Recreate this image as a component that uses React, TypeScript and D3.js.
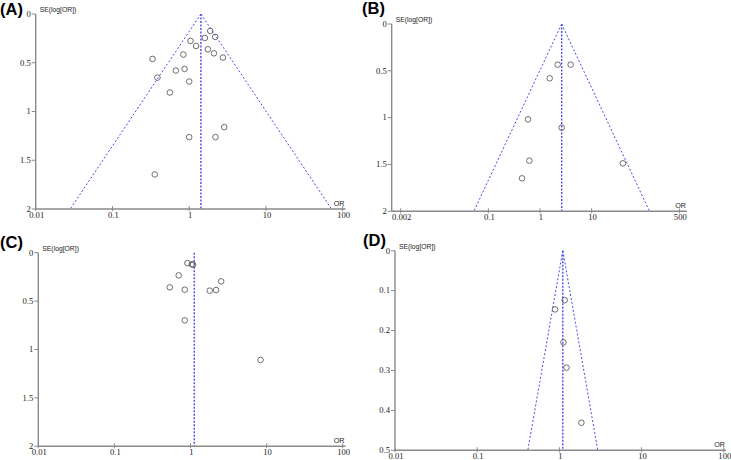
import React from "react";
import * as d3 from "d3";

// Panel A
const orA = [1.88, 2.18, 1.6, 1.04, 1.23, 1.75, 2.1, 2.75, 0.84, 0.333, 0.67, 0.87, 0.386, 1.0, 0.56, 2.86, 1.0, 2.2, 0.356];
const seA = [0.174, 0.235, 0.246, 0.276, 0.328, 0.362, 0.403, 0.447, 0.416, 0.461, 0.58, 0.563, 0.652, 0.693, 0.805, 1.16, 1.263, 1.263, 1.645];
const pooledA = 1.42;
const xTicksA = [0.01, 0.1, 1, 10, 100];
const yTicksA = [0, 0.5, 1, 1.5, 2];

// Panel B
const orB = [2.2, 3.92, 1.54, 0.586, 2.63, 0.622, 40.4, 0.449];
const seB = [0.434, 0.434, 0.58, 1.018, 1.107, 1.459, 1.488, 1.648];
const pooledB = 2.63;
const xTicksB = [0.002, 0.1, 1, 10, 500];
const yTicksB = [0, 0.5, 1, 1.5, 2];

// Panel C
const orC = [0.91, 1.04, 1.08, 0.7, 0.535, 0.84, 1.79, 2.17, 2.53, 0.84, 8.31];
const seC = [0.107, 0.12, 0.124, 0.234, 0.358, 0.382, 0.392, 0.386, 0.296, 0.699, 1.108];
const pooledC = 1.12;
const xTicksC = [0.01, 0.1, 1, 10, 100];
const yTicksC = [0, 0.5, 1, 1.5, 2];

// Panel D
const orD = [1.16, 0.885, 1.12, 1.22, 1.85];
const seD = [0.124, 0.147, 0.2295, 0.293, 0.431];
const pooledD = 1.1;
const xTicksD = [0.01, 0.1, 1, 10, 100];
const yTicksD = [0, 0.1, 0.2, 0.3, 0.4, 0.5];

type PanelProps = {
  label: string;
  labelX: number;
  labelY: number;
  or: number[];
  se: number[];
  pooled: number;
  xTicks: number[];
  yTicks: number[];
  xDomain: [number, number];
  xRange: [number, number];
  axisLeft: number;
  axisRight: number;
  top: number;
  bottom: number;
  funnel: boolean;
};

const AXIS = "#8a8a8a";
const BLUE = "#4a4af2";
const TICKFONT = "'Liberation Serif', 'DejaVu Serif', serif";
const SANS = "'Liberation Sans', Arial, sans-serif";

function fmt(v: number) {
  return String(v);
}

function Panel(p: PanelProps) {
  const x = d3.scaleLog().domain(p.xDomain).range(p.xRange);
  const yMax = p.yTicks[p.yTicks.length - 1];
  const y = d3.scaleLinear().domain([0, yMax]).range([p.top, p.bottom]);
  const z = 1.96;
  const loOR = p.pooled * Math.exp(-z * yMax);
  const hiOR = p.pooled * Math.exp(z * yMax);
  return (
    <g>
      <text x={p.labelX} y={p.labelY} fontFamily={SANS} fontWeight="bold" fontSize={16.5} fill="#000">
        {p.label}
      </text>
      <text x={p.axisLeft + 4} y={p.top - 2} fontFamily={SANS} fontSize={6.8} fill="#222">
        SE(log[OR])
      </text>
      <text x={p.axisRight - 1} y={p.bottom - 3} fontFamily={SANS} fontSize={7.2} fill="#222" textAnchor="end">
        OR
      </text>
      {p.funnel && (
        <g stroke={BLUE} strokeWidth={1} strokeDasharray="2,2" fill="none">
          <line x1={x(p.pooled)} y1={y(0)} x2={x(loOR)} y2={y(yMax)} />
          <line x1={x(p.pooled)} y1={y(0)} x2={x(hiOR)} y2={y(yMax)} />
        </g>
      )}
      <line
        x1={x(p.pooled)}
        y1={y(0)}
        x2={x(p.pooled)}
        y2={y(yMax)}
        stroke={BLUE}
        strokeWidth={1.4}
        strokeDasharray="2,1.5"
      />
      <line x1={p.axisLeft} y1={p.top} x2={p.axisLeft} y2={p.bottom} stroke={AXIS} strokeWidth={1.4} />
      <line x1={p.axisLeft} y1={p.bottom} x2={p.axisRight} y2={p.bottom} stroke={AXIS} strokeWidth={1.4} />
      {p.yTicks.map((t) => (
        <g key={"y" + t}>
          <line x1={p.axisLeft - 4} x2={p.axisLeft} y1={y(t)} y2={y(t)} stroke={AXIS} strokeWidth={1} />
          <text
            x={p.axisLeft - 5}
            y={y(t) + 2.8}
            textAnchor="end"
            fontFamily={TICKFONT}
            fontSize={8.6}
            fill="#222"
          >
            {fmt(t)}
          </text>
        </g>
      ))}
      {p.xTicks.map((t) => (
        <g key={"x" + t}>
          <line x1={x(t)} x2={x(t)} y1={p.bottom - 3} y2={p.bottom + 2} stroke={AXIS} strokeWidth={1} />
          <text x={x(t) + 1} y={p.bottom + 9} textAnchor="middle" fontFamily={TICKFONT} fontSize={8.6} fill="#222">
            {fmt(t)}
          </text>
        </g>
      ))}
      {p.or.map((v, i) => (
        <circle key={i} cx={x(v)} cy={y(p.se[i])} r={2.8} fill="none" stroke="#555" strokeWidth={0.85} />
      ))}
    </g>
  );
}

export default function App() {
  return (
    <svg
      width={731}
      height={460}
      viewBox="0 0 731 460"
      style={{ position: "absolute", left: 0, top: 0, background: "#fff" }}
    >
      <rect x={0} y={0} width={731} height={460} fill="#fff" />
      <Panel
        label="(A)"
        labelX={0}
        labelY={15}
        or={orA}
        se={seA}
        pooled={pooledA}
        xTicks={xTicksA}
        yTicks={yTicksA}
        xDomain={[0.01, 100]}
        xRange={[35.7, 342.7]}
        axisLeft={35.7}
        axisRight={345.5}
        top={14}
        bottom={209}
        funnel={true}
      />
      <Panel
        label="(B)"
        labelX={362}
        labelY={14}
        or={orB}
        se={seB}
        pooled={pooledB}
        xTicks={xTicksB}
        yTicks={yTicksB}
        xDomain={[0.002, 500]}
        xRange={[400.7, 679.3]}
        axisLeft={391.7}
        axisRight={687}
        top={24}
        bottom={211.3}
        funnel={true}
      />
      <Panel
        label="(C)"
        labelX={0}
        labelY={248}
        or={orC}
        se={seC}
        pooled={pooledC}
        xTicks={xTicksC}
        yTicks={yTicksC}
        xDomain={[0.01, 100]}
        xRange={[38.3, 342.7]}
        axisLeft={38.3}
        axisRight={345.5}
        top={252.7}
        bottom={446.3}
        funnel={false}
      />
      <Panel
        label="(D)"
        labelX={363}
        labelY={246}
        or={orD}
        se={seD}
        pooled={pooledD}
        xTicks={xTicksD}
        yTicks={yTicksD}
        xDomain={[0.01, 100]}
        xRange={[395, 723.8]}
        axisLeft={395}
        axisRight={726}
        top={250.7}
        bottom={450.3}
        funnel={true}
      />
    </svg>
  );
}
